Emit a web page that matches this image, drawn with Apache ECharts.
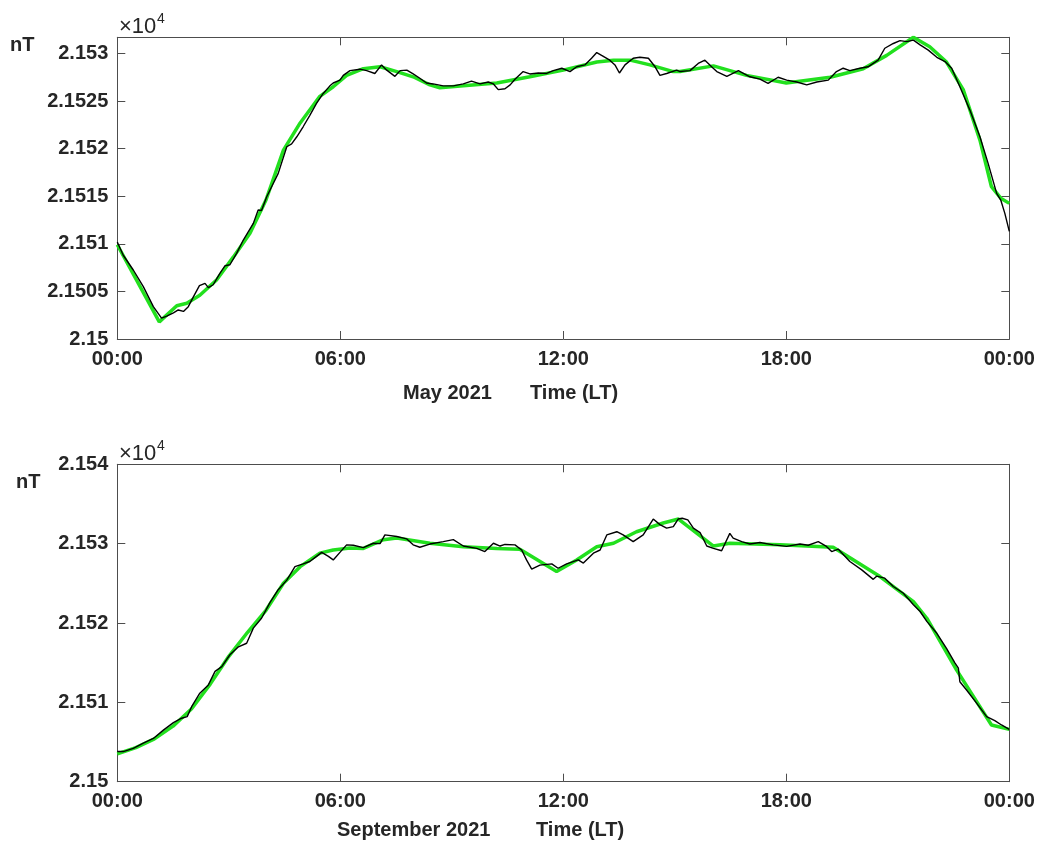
<!DOCTYPE html>
<html>
<head>
<meta charset="utf-8">
<script src="https://cdn.jsdelivr.net/npm/echarts@6/dist/echarts.min.js"></script>
<style>
html,body{margin:0;padding:0;background:#fff;}
#chart{width:1041px;height:844px;}
</style>
</head>
<body>
<div id="chart"></div>
<script>
// ---- Data (hours LT, nT) ----
const xTicks = ['00:00','06:00','12:00','18:00','00:00'];

const mayTime = [0,0.05,0.16,0.43,0.70,0.97,1.19,1.33,1.51,1.64,1.78,1.91,2.05,2.21,2.36,2.45,2.58,2.76,2.90,3.03,3.21,3.39,3.66,3.79,3.88,4.02,4.11,4.33,4.56,4.69,4.83,5.00,5.18,5.36,5.54,5.72,5.81,5.99,6.08,6.26,6.53,6.71,6.93,7.11,7.25,7.47,7.61,7.79,7.96,8.14,8.32,8.50,8.77,9.04,9.31,9.53,9.76,9.98,10.12,10.25,10.43,10.57,10.70,10.92,11.10,11.33,11.55,11.73,11.96,12.18,12.36,12.58,12.76,12.90,13.03,13.25,13.39,13.51,13.66,13.88,14.06,14.29,14.47,14.60,14.78,15.05,15.14,15.41,15.63,15.81,15.99,16.13,16.40,16.71,17.02,17.29,17.51,17.78,18.01,18.28,18.55,18.82,19.13,19.35,19.53,19.71,19.98,20.20,20.47,20.65,20.88,21.06,21.24,21.42,21.60,21.82,22.05,22.27,22.45,22.67,22.94,23.21,23.43,23.66,23.77,23.88,24.00];
const mayObs = [21510.2,21510.0,21508.8,21507.25,21505.5,21503.4,21502.2,21502.4,21502.75,21503.05,21502.9,21503.4,21504.45,21505.6,21505.85,21505.4,21505.7,21506.9,21507.7,21507.8,21509.0,21510.4,21512.15,21513.55,21513.5,21514.95,21515.65,21517.4,21520.2,21520.5,21521.25,21522.3,21523.5,21524.75,21525.8,21526.6,21526.9,21527.2,21527.7,21528.2,21528.35,21528.2,21527.9,21528.8,21528.25,21527.6,21528.2,21528.25,21527.85,21527.4,21526.9,21526.8,21526.6,21526.6,21526.8,21527.1,21526.8,21527.0,21526.8,21526.2,21526.3,21526.7,21527.3,21528.1,21527.85,21527.95,21527.9,21528.2,21528.45,21528.1,21528.6,21528.8,21529.5,21530.1,21529.8,21529.3,21528.8,21527.95,21528.8,21529.5,21529.6,21529.5,21528.6,21527.7,21527.9,21528.25,21528.1,21528.2,21528.95,21529.3,21528.6,21528.1,21527.6,21528.2,21527.55,21527.3,21526.85,21527.5,21527.2,21527.0,21526.7,21527.0,21527.2,21528.1,21528.45,21528.2,21528.45,21528.6,21529.3,21530.55,21531.05,21531.35,21531.25,21531.4,21530.9,21530.35,21529.6,21529.15,21528.45,21526.5,21524.05,21521.25,21518.45,21515.3,21514.6,21513.2,21511.3];

const mayFitTime = [0,1.13,1.60,1.87,2.22,2.67,3.12,3.57,4.00,4.47,4.92,5.45,5.81,6.17,6.62,7.07,7.52,7.96,8.41,8.68,9.31,10.21,11.10,12.00,12.90,13.35,13.80,14.33,14.96,15.14,16.04,16.93,18.00,19.18,20.07,20.70,21.42,21.86,22.31,22.76,23.21,23.52,23.77,24.00];
const mayFit = [21509.9,21501.8,21503.5,21503.75,21504.6,21506.2,21508.6,21511.1,21514.6,21519.85,21522.7,21525.5,21526.5,21527.7,21528.4,21528.6,21528.1,21527.55,21526.7,21526.4,21526.6,21526.9,21527.55,21528.25,21529.1,21529.3,21529.3,21528.8,21528.1,21528.1,21528.7,21527.7,21526.9,21527.5,21528.4,21529.8,21531.7,21530.7,21529.1,21526.2,21520.9,21516.0,21514.8,21514.25];

const sepTime = [0,0.16,0.43,0.70,0.97,1.24,1.51,1.73,1.88,2.00,2.22,2.45,2.63,2.81,3.03,3.26,3.48,3.66,3.88,4.11,4.33,4.56,4.78,5.00,5.18,5.36,5.50,5.68,5.81,5.99,6.17,6.35,6.62,6.89,7.07,7.20,7.52,7.79,7.96,8.14,8.41,8.77,9.04,9.31,9.67,9.89,10.12,10.30,10.43,10.70,10.88,11.01,11.15,11.37,11.69,11.86,12.09,12.40,12.54,12.81,12.99,13.17,13.44,13.61,13.88,14.15,14.42,14.60,14.78,14.96,15.09,15.20,15.35,15.50,15.68,15.86,16.04,16.26,16.48,16.57,16.80,17.02,17.29,17.65,18.01,18.37,18.59,18.86,19.08,19.22,19.40,19.71,20.03,20.34,20.43,20.65,20.88,21.15,21.42,21.60,21.78,22.05,22.31,22.54,22.63,22.67,22.85,23.12,23.39,23.61,23.79,24.00];
const sepObs = [21503.8,21503.8,21504.2,21504.85,21505.45,21506.5,21507.45,21508.0,21508.2,21509.45,21511.15,21512.2,21513.9,21514.5,21516.0,21517.0,21517.45,21519.35,21520.6,21522.6,21524.2,21525.4,21527.1,21527.45,21527.75,21528.4,21528.9,21528.4,21527.95,21528.9,21529.85,21529.8,21529.5,21530.05,21530.0,21531.1,21530.9,21530.6,21529.85,21529.55,21529.95,21530.25,21530.5,21529.7,21529.4,21529.0,21530.05,21529.7,21529.9,21529.85,21529.2,21527.95,21526.8,21527.3,21527.45,21526.9,21527.45,21527.95,21527.55,21528.8,21529.2,21531.1,21531.5,21531.1,21530.25,21531.1,21533.1,21532.4,21531.95,21532.15,21533.1,21533.2,21533.0,21531.95,21531.4,21529.7,21529.4,21529.1,21531.3,21530.7,21530.25,21529.95,21530.15,21529.85,21529.65,21529.95,21529.8,21530.25,21529.65,21529.0,21529.3,21527.75,21526.7,21525.5,21525.9,21525.65,21524.6,21523.75,21522.3,21521.45,21520.2,21518.7,21516.8,21514.95,21514.3,21512.6,21511.55,21509.9,21508.2,21507.7,21507.15,21506.6];

const sepFitTime = [0,0.5,1.0,1.5,2.0,2.5,3.0,3.5,4.0,4.47,4.92,5.45,5.81,6.26,6.62,7.16,7.52,8.41,9.31,10.21,10.83,11.82,12.36,12.90,13.35,13.97,14.69,15.10,16.04,16.48,17.83,19.26,20.52,21.42,21.78,22.58,23.52,24.00];
const sepFit = [21503.5,21504.3,21505.4,21507.0,21509.2,21512.3,21515.8,21518.8,21521.6,21525.0,21527.1,21528.8,21529.2,21529.45,21529.4,21530.5,21530.7,21530.05,21529.6,21529.4,21529.3,21526.5,21527.95,21529.6,21530.05,21531.5,21532.6,21533.1,21529.7,21530.05,21529.85,21529.55,21525.85,21522.7,21520.6,21514.1,21507.15,21506.6];

function pairs(t, v) { return t.map((x, i) => [x, v[i]]); }

const FONT = '"Liberation Sans", Arial, Helvetica, sans-serif';
const AX = '#4d4d4d';
const TXT = '#262626';

function xAxes(grid) {
  const base = {
    gridIndex: grid, type: 'value', min: 0, max: 24, interval: 6,
    splitLine: { show: false },
    axisLine: { show: true, onZero: false, lineStyle: { color: AX, width: 1 } },
    axisTick: { show: true, inside: true, length: 8, lineStyle: { color: AX } }
  };
  return [
    Object.assign({}, base, {
      position: 'bottom',
      axisLabel: {
        show: true, margin: 10, color: TXT, fontFamily: FONT, fontWeight: 'bold', fontSize: 20,
        formatter: v => xTicks[Math.round(v / 6)] || ''
      }
    }),
    Object.assign({}, base, { position: 'top', axisLabel: { show: false } })
  ];
}

function yAxes(grid, min, max, interval) {
  const base = {
    gridIndex: grid, type: 'value', min: min, max: max, interval: interval,
    splitLine: { show: false },
    axisLine: { show: true, onZero: false, lineStyle: { color: AX, width: 1 } },
    axisTick: { show: true, inside: true, length: 8, lineStyle: { color: AX } }
  };
  return [
    Object.assign({}, base, {
      position: 'left',
      axisLabel: {
        show: true, margin: 9, color: TXT, fontFamily: FONT, fontWeight: 'bold', fontSize: 20,
        formatter: v => {
          const k = (v - min) / interval;
          if (Math.abs(k - Math.round(k)) > 1e-6) return '';
          return String(parseFloat((v / 1e4).toFixed(5)));
        }
      }
    }),
    Object.assign({}, base, { position: 'right', axisLabel: { show: false } })
  ];
}

const GREEN = '#22e01e';

function txt(text, x, y, opts) {
  return {
    type: 'text', x: x, y: y, silent: true,
    style: Object.assign({
      text: text, fill: TXT, font: 'bold 20px ' + FONT,
      textAlign: 'left', textVerticalAlign: 'middle'
    }, opts || {})
  };
}

const option = {
  animation: false,
  backgroundColor: '#fff',
  grid: [
    { left: 117.3, top: 37.3, width: 892, height: 301.7 },
    { left: 117.3, top: 464.3, width: 892, height: 317.4 }
  ],
  xAxis: [].concat(xAxes(0), xAxes(1)),
  yAxis: [].concat(yAxes(0, 21500, 21531.7, 5), yAxes(1, 21500, 21540, 10)),
  series: [
    { type: 'line', xAxisIndex: 0, yAxisIndex: 0, data: pairs(mayFitTime, mayFit), showSymbol: false,
      lineStyle: { color: GREEN, width: 3.5 }, z: 2 },
    { type: 'line', xAxisIndex: 0, yAxisIndex: 0, data: pairs(mayTime, mayObs), showSymbol: false,
      lineStyle: { color: '#000', width: 1.4 }, z: 3 },
    { type: 'line', xAxisIndex: 2, yAxisIndex: 2, data: pairs(sepFitTime, sepFit), showSymbol: false,
      lineStyle: { color: GREEN, width: 3.5 }, z: 2 },
    { type: 'line', xAxisIndex: 2, yAxisIndex: 2, data: pairs(sepTime, sepObs), showSymbol: false,
      lineStyle: { color: '#000', width: 1.4 }, z: 3 }
  ],
  graphic: [
    txt('nT', 10, 45),
    txt('\u00d710', 119, 27, { font: '22px ' + FONT }),
    txt('4', 157, 19, { font: '14px ' + FONT }),
    txt('May 2021', 403, 393),
    txt('Time (LT)', 530, 393),
    txt('nT', 16, 482),
    txt('\u00d710', 119, 454, { font: '22px ' + FONT }),
    txt('4', 157, 446, { font: '14px ' + FONT }),
    txt('September 2021', 337, 830),
    txt('Time (LT)', 536, 830)
  ]
};

const chart = echarts.init(document.getElementById('chart'), null, { renderer: 'canvas' });
chart.setOption(option);
</script>
</body>
</html>
